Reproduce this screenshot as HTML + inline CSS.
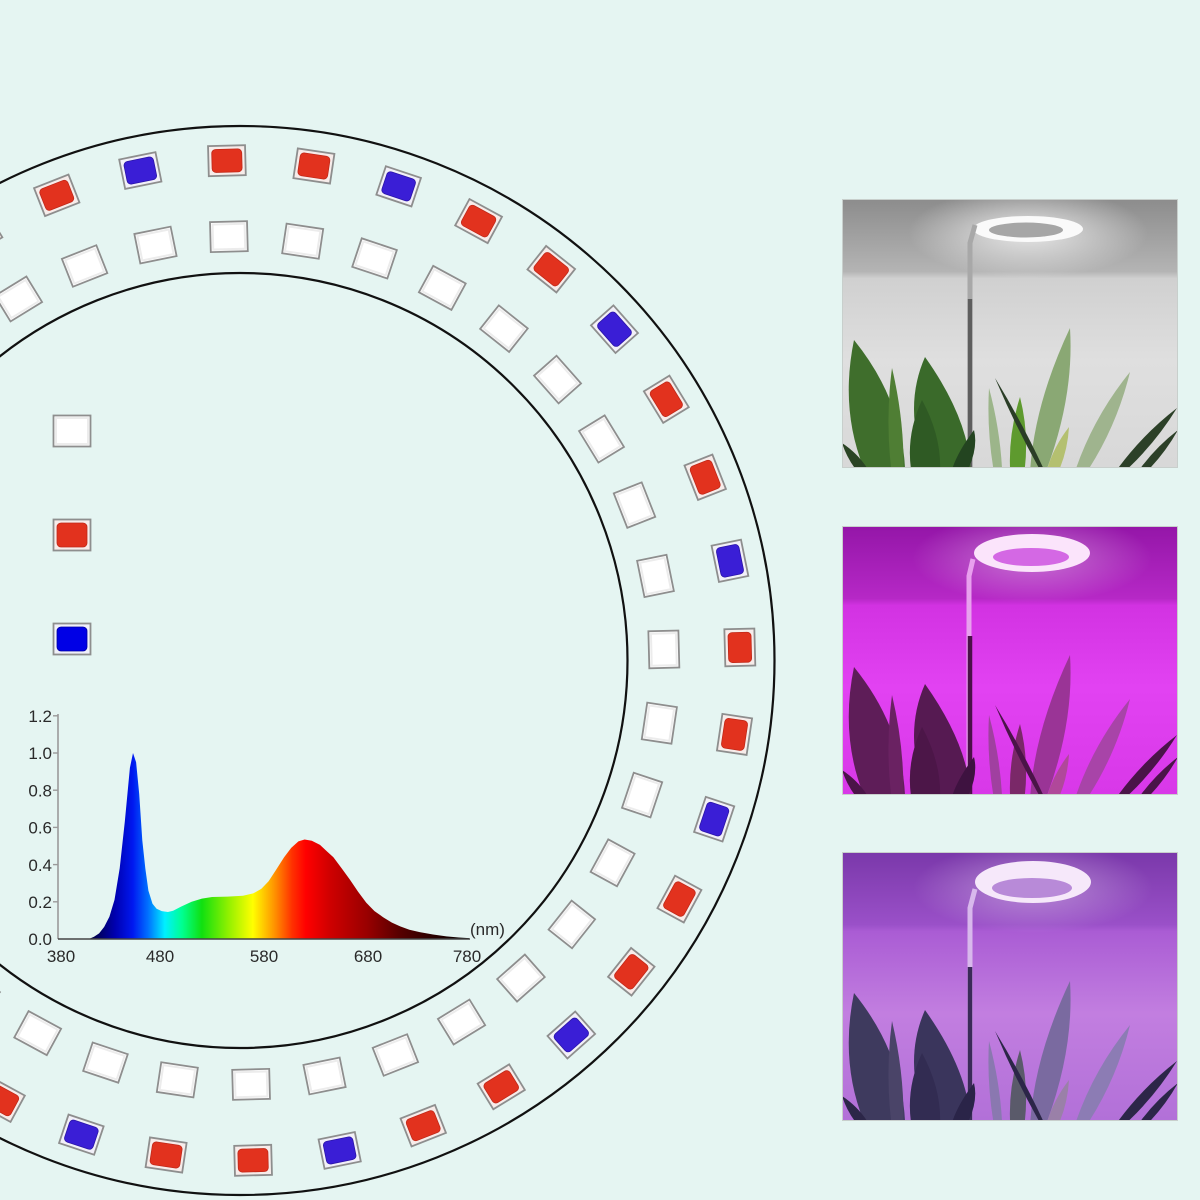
<!DOCTYPE html>
<html><head><meta charset="utf-8"><style>
html,body{margin:0;padding:0;background:#e5f5f2;}
body{width:1200px;height:1200px;overflow:hidden;}
svg{display:block;}
text{font-family:"Liberation Sans",sans-serif;}
</style></head><body>
<svg width="1200" height="1200" viewBox="0 0 1200 1200" xmlns="http://www.w3.org/2000/svg">
<defs>
<g id="R"><rect x="-18.5" y="-15" width="37" height="30" fill="#f7ecea" stroke="#8e8e8e" stroke-width="1.8"/><rect x="-15" y="-11.5" width="30" height="23" rx="4" fill="#e2321e" stroke="#c02818" stroke-width="0.8"/></g>
<g id="B"><rect x="-18.5" y="-15" width="37" height="30" fill="#f2f0f8" stroke="#8e8e8e" stroke-width="1.8"/><rect x="-15" y="-11.5" width="30" height="23" rx="4" fill="#3a1ed6" stroke="#2a14a8" stroke-width="0.8"/></g>
<g id="W"><rect x="-18.5" y="-15" width="37" height="30" fill="#ffffff" stroke="#8e8e8e" stroke-width="1.8"/><rect x="-16" y="-12.5" width="32" height="25" fill="none" stroke="#ececec" stroke-width="2"/></g>
<linearGradient id="spec" gradientUnits="userSpaceOnUse" x1="58" y1="0" x2="469" y2="0">
<stop offset="0" stop-color="#000000"/>
<stop offset="0.09" stop-color="#000050"/>
<stop offset="0.139" stop-color="#0000b0"/>
<stop offset="0.182" stop-color="#0018f0"/>
<stop offset="0.219" stop-color="#0070ff"/>
<stop offset="0.26" stop-color="#00f0ff"/>
<stop offset="0.302" stop-color="#00ff90"/>
<stop offset="0.35" stop-color="#10e010"/>
<stop offset="0.414" stop-color="#90f000"/>
<stop offset="0.474" stop-color="#ffff00"/>
<stop offset="0.528" stop-color="#ff9000"/>
<stop offset="0.57" stop-color="#ff3000"/>
<stop offset="0.603" stop-color="#ff0000"/>
<stop offset="0.66" stop-color="#d00000"/>
<stop offset="0.75" stop-color="#9a0000"/>
<stop offset="0.83" stop-color="#580000"/>
<stop offset="0.9" stop-color="#300000"/>
<stop offset="1" stop-color="#000000"/>
</linearGradient>
<linearGradient id="bg1" x1="0" y1="0" x2="0" y2="1">
<stop offset="0" stop-color="#8c8c8c"/><stop offset="0.27" stop-color="#b4b4b4"/><stop offset="0.295" stop-color="#d0d0d0"/><stop offset="0.6" stop-color="#dfdfdf"/><stop offset="1" stop-color="#d8d8d8"/>
</linearGradient>
<linearGradient id="bg2" x1="0" y1="0" x2="0" y2="1">
<stop offset="0" stop-color="#9416a8"/><stop offset="0.27" stop-color="#b628c6"/><stop offset="0.295" stop-color="#d232e2"/><stop offset="0.6" stop-color="#e242f2"/><stop offset="1" stop-color="#d838e8"/>
</linearGradient>
<linearGradient id="bg3" x1="0" y1="0" x2="0" y2="1">
<stop offset="0" stop-color="#7a38aa"/><stop offset="0.27" stop-color="#9a50c8"/><stop offset="0.295" stop-color="#aa5cd4"/><stop offset="0.6" stop-color="#c27ee0"/><stop offset="1" stop-color="#b270d8"/>
</linearGradient>
<radialGradient id="glow" cx="0.5" cy="0.5" r="0.5">
<stop offset="0" stop-color="#ffffff" stop-opacity="0.75"/><stop offset="1" stop-color="#ffffff" stop-opacity="0"/>
</radialGradient>
</defs>

<rect width="1200" height="1200" fill="#e5f5f2"/>

<!-- rings -->
<circle cx="240" cy="660.5" r="534.5" fill="none" stroke="#111" stroke-width="2.2"/>
<circle cx="240" cy="660.5" r="387.5" fill="none" stroke="#111" stroke-width="2.2"/>

<!-- colored chips r=500 -->
<use href="#R" transform="rotate(-121.5 240 660.5) translate(740 660.5) rotate(90)"/>
<use href="#R" transform="rotate(-111.5 240 660.5) translate(740 660.5) rotate(90)"/>
<use href="#B" transform="rotate(-101.5 240 660.5) translate(740 660.5) rotate(90)"/>
<use href="#R" transform="rotate(-91.5 240 660.5) translate(740 660.5) rotate(90)"/>
<use href="#R" transform="rotate(-81.5 240 660.5) translate(740 660.5) rotate(90)"/>
<use href="#B" transform="rotate(-71.5 240 660.5) translate(740 660.5) rotate(90)"/>
<use href="#R" transform="rotate(-61.5 240 660.5) translate(740 660.5) rotate(90)"/>
<use href="#R" transform="rotate(-51.5 240 660.5) translate(740 660.5) rotate(90)"/>
<use href="#B" transform="rotate(-41.5 240 660.5) translate(740 660.5) rotate(90)"/>
<use href="#R" transform="rotate(-31.5 240 660.5) translate(740 660.5) rotate(90)"/>
<use href="#R" transform="rotate(-21.5 240 660.5) translate(740 660.5) rotate(90)"/>
<use href="#B" transform="rotate(-11.5 240 660.5) translate(740 660.5) rotate(90)"/>
<use href="#R" transform="rotate(-1.5 240 660.5) translate(740 660.5) rotate(90)"/>
<use href="#R" transform="rotate(8.5 240 660.5) translate(740 660.5) rotate(90)"/>
<use href="#B" transform="rotate(18.5 240 660.5) translate(740 660.5) rotate(90)"/>
<use href="#R" transform="rotate(28.5 240 660.5) translate(740 660.5) rotate(90)"/>
<use href="#R" transform="rotate(38.5 240 660.5) translate(740 660.5) rotate(90)"/>
<use href="#B" transform="rotate(48.5 240 660.5) translate(740 660.5) rotate(90)"/>
<use href="#R" transform="rotate(58.5 240 660.5) translate(740 660.5) rotate(90)"/>
<use href="#R" transform="rotate(68.5 240 660.5) translate(740 660.5) rotate(90)"/>
<use href="#B" transform="rotate(78.5 240 660.5) translate(740 660.5) rotate(90)"/>
<use href="#R" transform="rotate(88.5 240 660.5) translate(740 660.5) rotate(90)"/>
<use href="#R" transform="rotate(98.5 240 660.5) translate(740 660.5) rotate(90)"/>
<use href="#B" transform="rotate(108.5 240 660.5) translate(740 660.5) rotate(90)"/>
<use href="#R" transform="rotate(118.5 240 660.5) translate(740 660.5) rotate(90)"/>

<!-- white chips r=424 -->
<use href="#W" transform="rotate(-131.5 240 660.5) translate(664 660.5) rotate(90)"/>
<use href="#W" transform="rotate(-121.5 240 660.5) translate(664 660.5) rotate(90)"/>
<use href="#W" transform="rotate(-111.5 240 660.5) translate(664 660.5) rotate(90)"/>
<use href="#W" transform="rotate(-101.5 240 660.5) translate(664 660.5) rotate(90)"/>
<use href="#W" transform="rotate(-91.5 240 660.5) translate(664 660.5) rotate(90)"/>
<use href="#W" transform="rotate(-81.5 240 660.5) translate(664 660.5) rotate(90)"/>
<use href="#W" transform="rotate(-71.5 240 660.5) translate(664 660.5) rotate(90)"/>
<use href="#W" transform="rotate(-61.5 240 660.5) translate(664 660.5) rotate(90)"/>
<use href="#W" transform="rotate(-51.5 240 660.5) translate(664 660.5) rotate(90)"/>
<use href="#W" transform="rotate(-41.5 240 660.5) translate(664 660.5) rotate(90)"/>
<use href="#W" transform="rotate(-31.5 240 660.5) translate(664 660.5) rotate(90)"/>
<use href="#W" transform="rotate(-21.5 240 660.5) translate(664 660.5) rotate(90)"/>
<use href="#W" transform="rotate(-11.5 240 660.5) translate(664 660.5) rotate(90)"/>
<use href="#W" transform="rotate(-1.5 240 660.5) translate(664 660.5) rotate(90)"/>
<use href="#W" transform="rotate(8.5 240 660.5) translate(664 660.5) rotate(90)"/>
<use href="#W" transform="rotate(18.5 240 660.5) translate(664 660.5) rotate(90)"/>
<use href="#W" transform="rotate(28.5 240 660.5) translate(664 660.5) rotate(90)"/>
<use href="#W" transform="rotate(38.5 240 660.5) translate(664 660.5) rotate(90)"/>
<use href="#W" transform="rotate(48.5 240 660.5) translate(664 660.5) rotate(90)"/>
<use href="#W" transform="rotate(58.5 240 660.5) translate(664 660.5) rotate(90)"/>
<use href="#W" transform="rotate(68.5 240 660.5) translate(664 660.5) rotate(90)"/>
<use href="#W" transform="rotate(78.5 240 660.5) translate(664 660.5) rotate(90)"/>
<use href="#W" transform="rotate(88.5 240 660.5) translate(664 660.5) rotate(90)"/>
<use href="#W" transform="rotate(98.5 240 660.5) translate(664 660.5) rotate(90)"/>
<use href="#W" transform="rotate(108.5 240 660.5) translate(664 660.5) rotate(90)"/>
<use href="#W" transform="rotate(118.5 240 660.5) translate(664 660.5) rotate(90)"/>
<use href="#W" transform="rotate(128.5 240 660.5) translate(664 660.5) rotate(90)"/>

<!-- legend chips -->
<rect x="53.5" y="415.5" width="37" height="31" fill="#ffffff" stroke="#8e8e8e" stroke-width="1.8"/>
<rect x="56" y="418" width="32" height="26" fill="none" stroke="#ececec" stroke-width="2"/>
<rect x="53.5" y="519.5" width="37" height="31" fill="#f7ecea" stroke="#8e8e8e" stroke-width="1.8"/>
<rect x="57" y="523" width="30" height="24" rx="4" fill="#e2321e" stroke="#c02818" stroke-width="0.8"/>
<rect x="53.5" y="623.5" width="37" height="31" fill="#f0f0fa" stroke="#8e8e8e" stroke-width="1.8"/>
<rect x="57" y="627" width="30" height="24" rx="4" fill="#0000e6" stroke="#0000a0" stroke-width="0.8"/>

<!-- spectrum chart -->
<path d="M58 939 L90 938.5 L94 936.8 L99.1 933.4 L104.2 926.9 L109.4 916.7 L114.5 899.9 L119.7 868.3 L124.8 821.8 L129.9 767.9 L133 753 L136.1 762.3 L139.2 793.9 L142.3 840.4 L145.3 868.3 L148.4 890.6 L152.5 903.7 L156.6 908.7 L161.8 911.1 L167.9 912 L173.1 910.7 L181.3 906.5 L191.6 901.8 L201.9 898.6 L212.1 897 L227.5 896.6 L243 895.8 L253.2 893.4 L261.4 888.8 L268.6 881.3 L275.8 870.2 L284.1 857.2 L291.2 847.9 L298.4 841.4 L304.6 839.5 L311.8 840.8 L320 844.9 L327.2 851.6 L333.4 857.2 L341.6 868.3 L349.8 879.5 L358 891.6 L366.3 902.7 L374.5 911.1 L383.7 917.6 L391.9 922.6 L400.2 926.4 L409.4 929.7 L419.7 932.1 L433 934.5 L446.4 936.4 L458.7 937.5 L469 938.1 L469 939 Z" fill="url(#spec)"/>
<line x1="58" y1="714" x2="58" y2="939" stroke="#9a9a9a" stroke-width="1.6"/>
<line x1="58" y1="939" x2="470" y2="939" stroke="#444" stroke-width="1.6"/>
<g stroke="#9a9a9a" stroke-width="1.4">
<line x1="53" y1="715.8" x2="58" y2="715.8"/><line x1="53" y1="753" x2="58" y2="753"/><line x1="53" y1="790.2" x2="58" y2="790.2"/><line x1="53" y1="827.4" x2="58" y2="827.4"/><line x1="53" y1="864.6" x2="58" y2="864.6"/><line x1="53" y1="901.8" x2="58" y2="901.8"/>
</g>
<g font-size="17" fill="#2a2a2a" text-anchor="end">
<text x="52" y="722">1.2</text>
<text x="52" y="759">1.0</text>
<text x="52" y="796.5">0.8</text>
<text x="52" y="833.5">0.6</text>
<text x="52" y="871">0.4</text>
<text x="52" y="908">0.2</text>
<text x="52" y="945">0.0</text>
</g>
<g font-size="17" fill="#2a2a2a" text-anchor="middle">
<text x="61" y="962">380</text>
<text x="160" y="962">480</text>
<text x="264" y="962">580</text>
<text x="368" y="962">680</text>
<text x="467" y="962">780</text>
</g>
<text x="470" y="935" font-size="17" fill="#2a2a2a">(nm)</text>

<!-- Photo 1 -->
<svg x="842" y="199" width="336" height="269" viewBox="0 0 336 269">
<rect width="336" height="269" fill="url(#bg1)"/>
<ellipse cx="186" cy="34" rx="120" ry="45" fill="url(#glow)"/>
<ellipse cx="186" cy="30" rx="55" ry="13" fill="#fafafa"/>
<ellipse cx="184" cy="31" rx="37" ry="7.5" fill="#a6a6a6"/>
<polyline points="133,26 128,44 128,269" fill="none" stroke="#a8a8a8" stroke-width="5"/>
<line x1="128" y1="100" x2="128" y2="269" stroke="#5e5e5e" stroke-width="4.5"/>
<g>
<path d="M58 330 Q79.7 224.6 12 141 Q-9.7 246.4 58 330Z" fill="#3f6e2c"/>
<path d="M58 320 Q68 245.2 50 169 Q40 243.8 58 320Z" fill="#4f7e34"/>
<path d="M118 330 Q151.5 254.3 83 158 Q49.5 233.7 118 330Z" fill="#3a6a2a"/>
<path d="M86 320 Q113 262 80 201 Q53 259 86 320Z" fill="#2f5a24"/>
<path d="M108 300 Q138.9 258.9 132 231 Q101.1 272.1 108 300Z" fill="#234420"/>
<path d="M188 310 Q233.4 213.9 228 129 Q182.6 225.1 188 310Z" fill="#8aa874"/>
<path d="M174 310 Q192 253.4 178 198 Q160 254.6 174 310Z" fill="#5e9a2e"/>
<path d="M160 310 Q163.4 250.6 147 189 Q143.6 248.4 160 310Z" fill="#9cb58a"/>
<path d="M215 300 Q188.5 237.2 153 179 Q179.5 241.8 215 300Z" fill="#2a3d26"/>
<path d="M225 300 Q270.8 243.6 288 173 Q242.2 229.4 225 300Z" fill="#9fb48e"/>
<path d="M262 290 Q305.9 256.2 335 209 Q291.1 242.8 262 290Z" fill="#2c4028"/>
<path d="M285 290 Q316.5 265.7 336 231 Q304.5 255.3 285 290Z" fill="#2c4028"/>
<path d="M200 300 Q224.7 268.2 227 228 Q202.3 259.8 200 300Z" fill="#b4c070"/>
<path d="M35 290 Q25.5 260.9 0 244 Q9.5 273.1 35 290Z" fill="#2a4424"/>
</g>
<rect x="0.5" y="0.5" width="335" height="268" fill="none" stroke="#c8cfcc" stroke-width="1"/>
</svg>

<!-- Photo 2 -->
<svg x="842" y="526" width="336" height="269" viewBox="0 0 336 269">
<rect width="336" height="269" fill="url(#bg2)"/>
<ellipse cx="190" cy="32" rx="120" ry="45" fill="url(#glow)" opacity="0.5"/>
<ellipse cx="190" cy="27" rx="58" ry="19" fill="#fbe4fb"/>
<ellipse cx="189" cy="31" rx="38" ry="9" fill="#d468e4"/>
<polyline points="131,33 127,50 127,269" fill="none" stroke="#e8a0ee" stroke-width="5"/>
<line x1="128" y1="110" x2="128" y2="269" stroke="#4a1048" stroke-width="4.5"/>
<g>
<path d="M58 330 Q79.7 224.6 12 141 Q-9.7 246.4 58 330Z" fill="#5e1d58"/>
<path d="M58 320 Q68 245.2 50 169 Q40 243.8 58 320Z" fill="#6a2262"/>
<path d="M118 330 Q151.5 254.3 83 158 Q49.5 233.7 118 330Z" fill="#561a52"/>
<path d="M86 320 Q113 262 80 201 Q53 259 86 320Z" fill="#4c1648"/>
<path d="M108 300 Q138.9 258.9 132 231 Q101.1 272.1 108 300Z" fill="#3e1240"/>
<path d="M188 310 Q233.4 213.9 228 129 Q182.6 225.1 188 310Z" fill="#9a3496"/>
<path d="M174 310 Q192 253.4 178 198 Q160 254.6 174 310Z" fill="#7a2868"/>
<path d="M160 310 Q163.4 250.6 147 189 Q143.6 248.4 160 310Z" fill="#a040a0"/>
<path d="M215 300 Q188.5 237.2 153 179 Q179.5 241.8 215 300Z" fill="#4a1448"/>
<path d="M225 300 Q270.8 243.6 288 173 Q242.2 229.4 225 300Z" fill="#a844a8"/>
<path d="M262 290 Q305.9 256.2 335 209 Q291.1 242.8 262 290Z" fill="#4a1448"/>
<path d="M285 290 Q316.5 265.7 336 231 Q304.5 255.3 285 290Z" fill="#4a1448"/>
<path d="M200 300 Q224.7 268.2 227 228 Q202.3 259.8 200 300Z" fill="#b0489a"/>
<path d="M35 290 Q25.5 260.9 0 244 Q9.5 273.1 35 290Z" fill="#4a1448"/>
</g>
<rect x="0.5" y="0.5" width="335" height="268" fill="none" stroke="#c8cfcc" stroke-width="1"/>
</svg>

<!-- Photo 3 -->
<svg x="842" y="852" width="336" height="269" viewBox="0 0 336 269">
<rect width="336" height="269" fill="url(#bg3)"/>
<ellipse cx="191" cy="36" rx="120" ry="45" fill="url(#glow)" opacity="0.5"/>
<ellipse cx="191" cy="30" rx="58" ry="21" fill="#f6e8fa"/>
<ellipse cx="190" cy="36" rx="40" ry="10" fill="#b88ad8"/>
<polyline points="133,37 128,56 128,269" fill="none" stroke="#d8b8ec" stroke-width="5"/>
<line x1="128" y1="115" x2="128" y2="269" stroke="#3a2a58" stroke-width="4.5"/>
<g>
<path d="M58 330 Q79.7 224.6 12 141 Q-9.7 246.4 58 330Z" fill="#3e3a5e"/>
<path d="M58 320 Q68 245.2 50 169 Q40 243.8 58 320Z" fill="#4a4468"/>
<path d="M118 330 Q151.5 254.3 83 158 Q49.5 233.7 118 330Z" fill="#3a355c"/>
<path d="M86 320 Q113 262 80 201 Q53 259 86 320Z" fill="#322c52"/>
<path d="M108 300 Q138.9 258.9 132 231 Q101.1 272.1 108 300Z" fill="#2a2448"/>
<path d="M188 310 Q233.4 213.9 228 129 Q182.6 225.1 188 310Z" fill="#7a6aa0"/>
<path d="M174 310 Q192 253.4 178 198 Q160 254.6 174 310Z" fill="#5a5a6a"/>
<path d="M160 310 Q163.4 250.6 147 189 Q143.6 248.4 160 310Z" fill="#8a78b0"/>
<path d="M215 300 Q188.5 237.2 153 179 Q179.5 241.8 215 300Z" fill="#2c2648"/>
<path d="M225 300 Q270.8 243.6 288 173 Q242.2 229.4 225 300Z" fill="#8c7cb4"/>
<path d="M262 290 Q305.9 256.2 335 209 Q291.1 242.8 262 290Z" fill="#2c2648"/>
<path d="M285 290 Q316.5 265.7 336 231 Q304.5 255.3 285 290Z" fill="#2c2648"/>
<path d="M200 300 Q224.7 268.2 227 228 Q202.3 259.8 200 300Z" fill="#9a80a8"/>
<path d="M35 290 Q25.5 260.9 0 244 Q9.5 273.1 35 290Z" fill="#2c2648"/>
</g>
<rect x="0.5" y="0.5" width="335" height="268" fill="none" stroke="#c8cfcc" stroke-width="1"/>
</svg>
</svg>
</body></html>
